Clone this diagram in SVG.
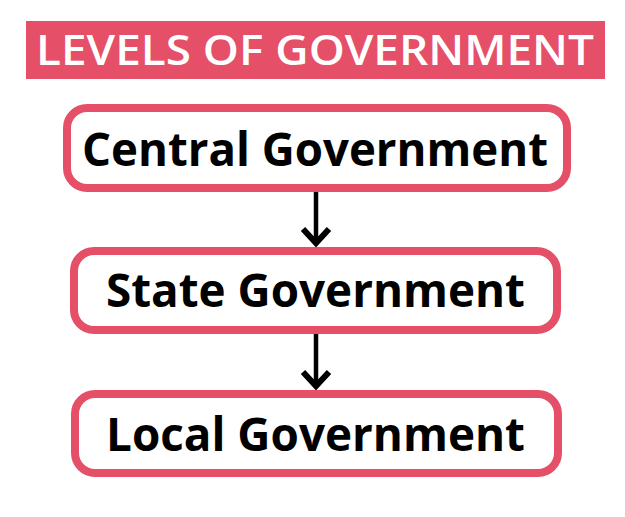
<svg xmlns="http://www.w3.org/2000/svg" width="625" height="517" viewBox="0 0 625 517">
<style>
.box{fill:#fff;stroke:#E54F67;stroke-width:8}
.lbl{font-family:"Open Sans","Liberation Sans",sans-serif;font-weight:700;font-size:46px;fill:#000}
.ttl{font-family:"Open Sans","Liberation Sans",sans-serif;font-weight:600;font-size:41px;fill:#fff}
.conn{stroke:#000;stroke-width:4.5;fill:none;stroke-linecap:butt}
.head{stroke:#000;stroke-width:6;fill:none;stroke-linejoin:miter;stroke-linecap:butt}
</style>
<rect width="625" height="517" fill="#fff"/>
<g id="title">
<rect x="26" y="21" width="579" height="58" fill="#E54F67"/>
<text class="ttl" x="36" y="65" textLength="558" lengthAdjust="spacingAndGlyphs">LEVELS OF GOVERNMENT</text>
</g>
<g id="connectors">
<line class="conn" x1="316" y1="192" x2="316" y2="243"/>
<polyline class="head" points="303,229 316,243 329,229"/>
<line class="conn" x1="316" y1="334" x2="316" y2="386"/>
<polyline class="head" points="303,372 316,386 329,372"/>
</g>
<g id="central">
<rect class="box" x="67" y="108" width="500" height="80" rx="20"/>
<text class="lbl" x="82" y="166" textLength="466" lengthAdjust="spacingAndGlyphs">Central Government</text>
</g>
<g id="state">
<rect class="box" x="74" y="251" width="483" height="79" rx="20"/>
<text class="lbl" x="106" y="307" textLength="419" lengthAdjust="spacingAndGlyphs">State Government</text>
</g>
<g id="local">
<rect class="box" x="75" y="394" width="483" height="79" rx="20"/>
<text class="lbl" x="106" y="451" textLength="419" lengthAdjust="spacingAndGlyphs">Local Government</text>
</g>
</svg>
